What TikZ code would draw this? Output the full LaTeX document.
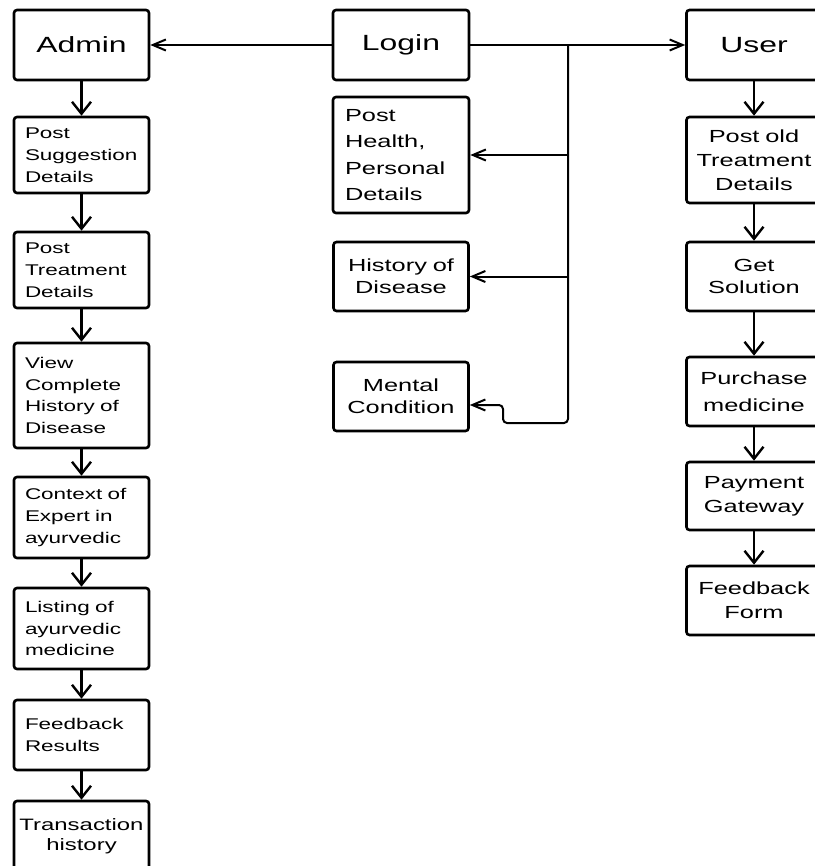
\documentclass[tikz,border=0pt]{standalone}
\usepackage{fontspec}
\setmainfont[FakeStretch=1.45]{Liberation Sans}
\usepackage{tikz}
\usetikzlibrary{arrows.meta, positioning}
\tikzset{
    headnode/.style = {draw, rectangle, rounded corners=3pt, line width=2.6pt, minimum width=135pt,
      minimum height=70pt, font=\fontsize{22}{26}\selectfont},
    leftnode/.style = {draw, rectangle, rounded corners=3pt, line width=2.6pt, text width=113pt,
      inner xsep=11pt, inner ysep=0pt, align=left, font=\fontsize{15.5}{21.8}\selectfont},
    rightnode/.style = {draw, rectangle, rounded corners=3pt, line width=2.6pt, text width=127pt,
      inner xsep=4pt, inner ysep=0pt, align=center, font=\fontsize{17.5}{24}\selectfont},
    connect/.style = {black, line width=2.4pt, -{Straight Barb[length=12pt,width=19pt]}},
    sideconnect/.style = {black, line width=2pt, -{Straight Barb[length=13pt,width=11pt]}}
}
\begin{document}
\begin{tikzpicture}[x=1pt, y=-1pt]
    \useasboundingbox (0,0) rectangle (814,866);

    % admin side
    \node [headnode, name=admin] at (81.5,45) {Admin};
    \node [leftnode, name=postsug, minimum height=76pt] at (81.5,155) {Post\\Suggestion\\Details};
    \node [leftnode, name=posttreat, minimum height=76pt] at (81.5,270) {Post\\Treatment\\Details};
    \node [leftnode, name=viewhist, minimum height=105pt] at (81.5,395.5) {View\\Complete\\History of\\Disease};
    \node [leftnode, name=context, minimum height=81pt] at (81.5,517.5) {Context of\\Expert in\\ayurvedic};
    \node [leftnode, name=listing, minimum height=81pt] at (81.5,628.5) {Listing of\\ayurvedic\\medicine};
    \node [leftnode, name=feedres, minimum height=70pt] at (81.5,735) {Feedback\\Results};
    \node [leftnode, name=trans, minimum height=70pt, align=center, text width=127pt, inner xsep=4pt,
      font=\fontsize{16.5}{20}\selectfont] at (81.5,836) {Transaction\\history};

    % login
    \node [headnode, name=login, minimum width=136pt] at (401,45) {Login};
    \node [rightnode, name=posthealth, minimum height=116pt, align=left, text width=112pt, inner xsep=12pt,
      font=\fontsize{17.5}{26.5}\selectfont] at (401,155) {Post\\Health,\\Personal\\Details};
    \node [rightnode, name=histdis, minimum height=69pt, font=\fontsize{17.5}{22}\selectfont] at (401,276.5) {History of\\Disease};
    \node [rightnode, name=mental, minimum height=69pt, font=\fontsize{17.5}{22}\selectfont] at (401,396.5) {Mental\\Condition};

    % user side
    \node [headnode, name=user] at (754,45) {User};
    \node [rightnode, name=postold, minimum height=86pt] at (754,160) {Post old\\Treatment\\Details};
    \node [rightnode, name=getsol, minimum height=69pt, font=\fontsize{17.5}{22}\selectfont] at (754,276.5) {Get\\Solution};
    \node [rightnode, name=purchase, minimum height=69pt, font=\fontsize{17.5}{27}\selectfont] at (754,391.5) {Purchase\\medicine};
    \node [rightnode, name=payment, minimum height=68pt] at (754,496) {Payment\\Gateway};
    \node [rightnode, name=feedform, minimum height=69pt] at (754,600.5) {Feedback\\Form};

    \coordinate (bustop) at (568,45);
    \coordinate (bus1) at (568,155);
    \coordinate (bus2) at (568,276.5);
    \coordinate (busbot) at (568,423);
    \coordinate (turn) at (503,423);

    \draw (login) edge[sideconnect] (admin);
    \draw (login) edge[sideconnect] (user);
    \draw (bus1) edge[sideconnect] (posthealth);
    \draw (bus2) edge[sideconnect] (histdis);
    \draw [sideconnect, rounded corners=4pt] (bustop) -- (busbot) -- (turn) |- ([yshift=-8.5pt]mental.east);

    \draw (admin) edge[connect] (postsug);
    \draw (postsug) edge[connect] (posttreat);
    \draw (posttreat) edge[connect] (viewhist);
    \draw (viewhist) edge[connect] (context);
    \draw (context) edge[connect] (listing);
    \draw (listing) edge[connect] (feedres);
    \draw (feedres) edge[connect] (trans);

    \draw (user) edge[connect] (postold);
    \draw (postold) edge[connect] (getsol);
    \draw (getsol) edge[connect] (purchase);
    \draw (purchase) edge[connect] (payment);
    \draw (payment) edge[connect] (feedform);
\end{tikzpicture}
\end{document}
